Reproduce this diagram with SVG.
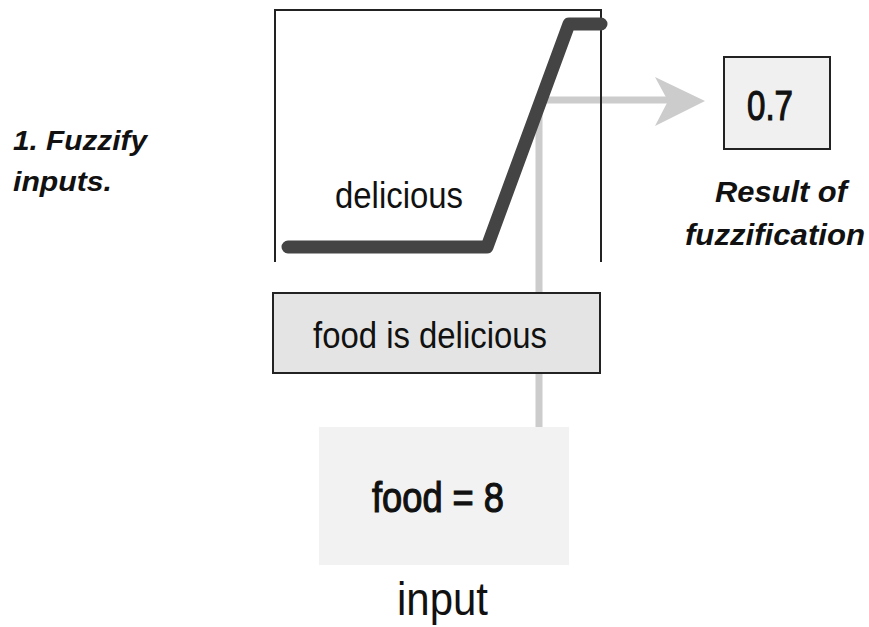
<svg xmlns="http://www.w3.org/2000/svg" width="869" height="627" viewBox="0 0 869 627">
<style>
.bi{font-family:"Liberation Sans",Arial,sans-serif;font-weight:bold;font-style:italic;fill:#111}
.r{font-family:"Liberation Sans",Arial,sans-serif;fill:#111}
.m{font-family:"Liberation Sans",Arial,sans-serif;fill:#111;stroke:#111;stroke-width:1.2}
.b{font-family:"Liberation Sans",Arial,sans-serif;font-weight:bold;fill:#111}
.conn{stroke:#cccccc;stroke-width:7;fill:none}
.frame{stroke:#222;stroke-width:2;fill:none}
</style>
<rect width="869" height="627" fill="#ffffff"/>
<g id="connectors">
<path class="conn" d="M539,427 V100 H668"/>
<polygon points="655,77 705,101 655,126 668,101" fill="#cccccc"/>
</g>
<g id="step-label">
<text class="bi" x="13" y="150" font-size="28" textLength="134" lengthAdjust="spacingAndGlyphs">1. Fuzzify</text>
<text class="bi" x="13" y="191" font-size="28" textLength="99" lengthAdjust="spacingAndGlyphs">inputs.</text>
</g>
<g id="membership-function">
<path class="frame" d="M275,262 V10 H601 V262"/>
<polyline points="288,247 487,247 569,24 601,24" fill="none" stroke="#444" stroke-width="13" stroke-linecap="round" stroke-linejoin="round"/>
<text class="r" x="335" y="208" font-size="36" textLength="128" lengthAdjust="spacingAndGlyphs">delicious</text>
</g>
<g id="rule">
<rect x="273" y="293" width="327" height="80" fill="#e4e4e4" stroke="#222" stroke-width="2"/>
<text class="r" x="313" y="348" font-size="36" textLength="234" lengthAdjust="spacingAndGlyphs">food is delicious</text>
</g>
<g id="input">
<rect x="319" y="427" width="250" height="138" fill="#f2f2f2"/>
<text class="m" x="372" y="512" font-size="43" textLength="132" lengthAdjust="spacingAndGlyphs">food = 8</text>
<text class="r" x="397" y="615" font-size="46" textLength="91" lengthAdjust="spacingAndGlyphs">input</text>
</g>
<g id="result">
<rect x="724" y="57" width="106" height="92" fill="#f0f0f0" stroke="#222" stroke-width="2"/>
<text class="m" x="747" y="120" font-size="43" textLength="46" lengthAdjust="spacingAndGlyphs">0.7</text>
<text class="bi" x="715" y="202" font-size="30" textLength="132" lengthAdjust="spacingAndGlyphs">Result of</text>
<text class="bi" x="685" y="245" font-size="30" textLength="180" lengthAdjust="spacingAndGlyphs">fuzzification</text>
</g>
</svg>
